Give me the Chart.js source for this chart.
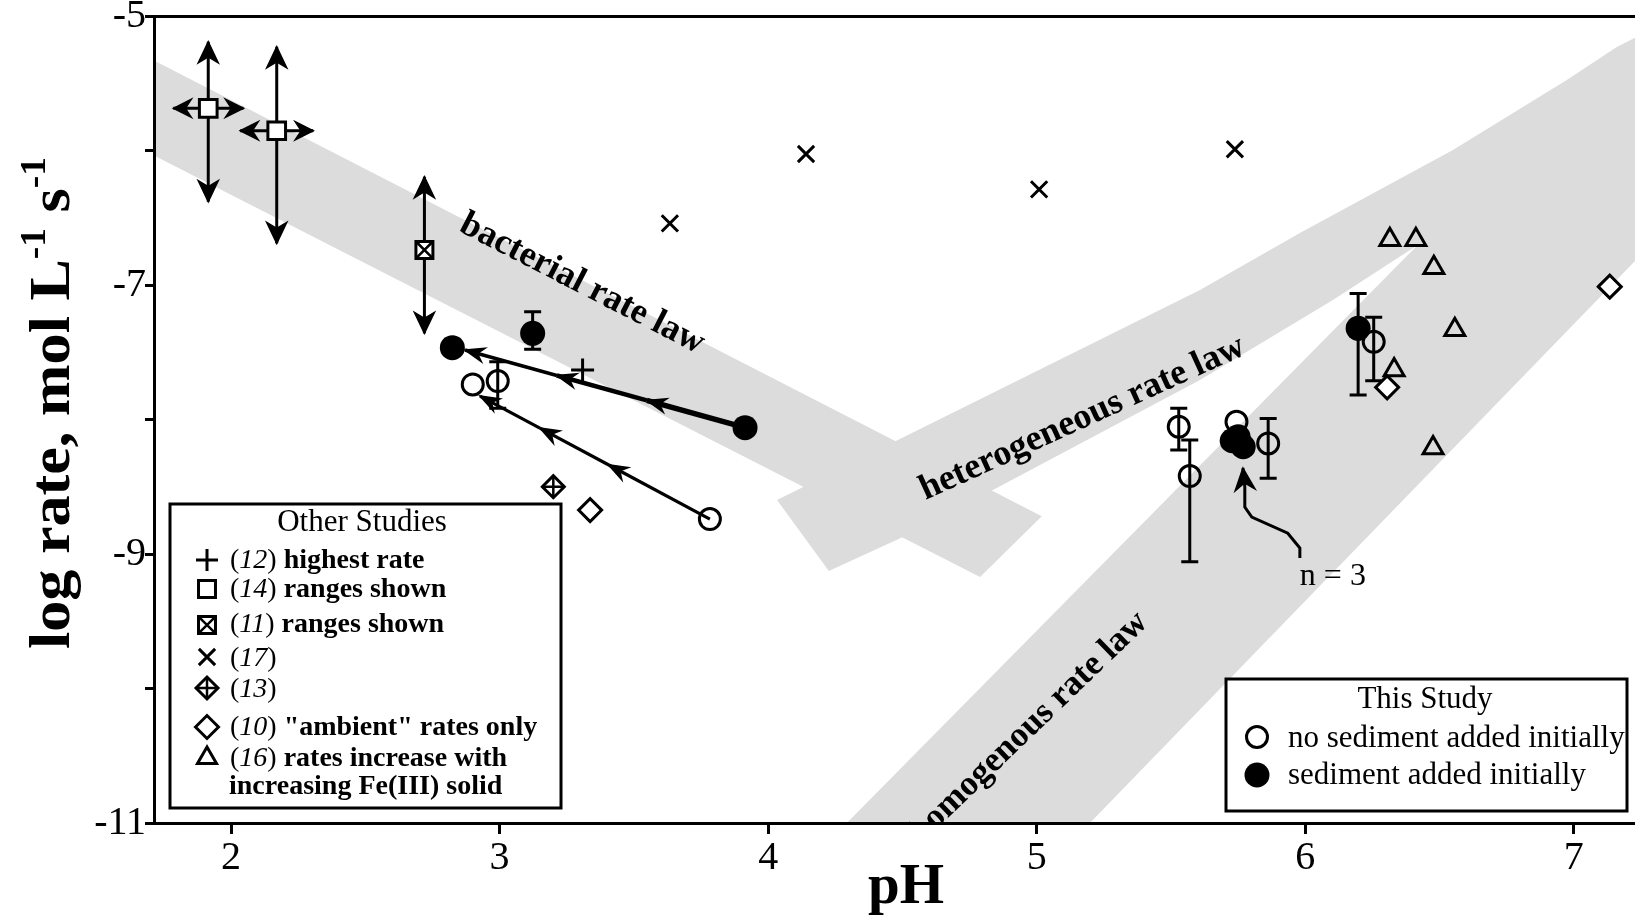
<!DOCTYPE html>
<html>
<head>
<meta charset="utf-8">
<script src="https://cdn.jsdelivr.net/npm/chart.js@4.4.1/dist/chart.umd.min.js"></script>
<style>
html,body{margin:0;padding:0;background:#fff;}
#wrap{width:1635px;height:915px;position:relative;overflow:hidden;}
canvas{display:block;}
</style>
</head>
<body>
<div id="wrap"><canvas id="c" width="1635" height="915"></canvas></div>
<script>
// ---------------- DATA ----------------
const xTicks = [2, 3, 4, 5, 6, 7];
const xTickLabels = ['2', '3', '4', '5', '6', '7'];
const yTicks = [-11, -10, -9, -8, -7, -6, -5];
const yTickLabels = ['-11', '', '-9', '', '-7', '', '-5'];

// Other studies
const ref12PH = [3.309];
const ref12Rate = [-7.630];
const ref14PH = [1.915, 2.170];
const ref14Rate = [-5.683, -5.850];
const ref14PHLow = [1.785, 2.034];
const ref14PHHigh = [2.046, 2.306];
const ref14RateLow = [-6.378, -6.688];
const ref14RateHigh = [-5.188, -5.225];
const ref11PH = [2.720];
const ref11Rate = [-6.737];
const ref11RateLow = [-7.357];
const ref11RateHigh = [-6.192];
const ref17PH = [3.634, 4.141, 5.009, 5.738];
const ref17Rate = [-6.539, -6.023, -6.286, -5.988];
const ref13PH = [3.200];
const ref13Rate = [-8.498];
const ref10PH = [3.337, 6.305, 7.134];
const ref10Rate = [-8.672, -7.759, -7.010];
const ref16PH = [6.315, 6.412, 6.479, 6.557, 6.331, 6.476];
const ref16Rate = [-6.66, -6.66, -6.87, -7.33, -7.63, -8.21];

// This study
const noSedPH = [3.783, 2.900, 2.993, 5.529, 5.570, 5.744, 5.862, 6.255];
const noSedRate = [-8.739, -7.737, -7.712, -8.052, -8.419, -8.015, -8.176, -7.420];
const noSedErrLow = [null, null, -7.915, -8.225, -9.057, null, -8.436, -7.710];
const noSedErrHigh = [null, null, -7.569, -7.915, -8.151, null, -7.990, -7.238];
const sedPH = [3.914, 2.824, 3.123, 6.197, 5.728, 5.769, 5.750];
const sedRate = [-8.059, -7.464, -7.357, -7.320, -8.156, -8.201, -8.127];
const sedErrLow = [null, null, -7.476, -7.816, null, null, null];
const sedErrHigh = [null, null, -7.196, -7.060, null, null, null];

// Trajectories (this study, arrows toward lower pH)
const trajAPH = [3.914, 3.548, 3.213, 2.871];
const trajARate = [-8.059, -7.856, -7.671, -7.481];
const trajBPH = [3.783, 3.405, 3.150, 2.927];
const trajBRate = [-8.739, -8.335, -8.062, -7.824];

// Rate-law bands (pH, log rate)
const bacterialBandPH = [1.5, 5.019, 4.789, 1.5];
const bacterialBandRate = [-5.109, -8.717, -9.170, -5.817];
const heteroBandPH = [4.033, 5.608, 5.980, 6.550, 6.974, 7.160, 7.320, 7.320, 6.724, 6.419, 6.103, 5.608, 4.837, 4.502, 4.226];
const heteroBandRate = [-8.597, -7.035, -6.611, -5.993, -5.472, -5.227, -5.063, -5.696, -6.365, -6.700, -7.109, -7.705, -8.523, -8.873, -9.126];
const homoBandPH = [4.194, 6.724, 7.320, 7.320, 5.101];
const homoBandRate = [-11.2, -6.083, -5.5, -6.63, -11.2];

const bandLabels = ['bacterial rate law', 'heterogeneous rate law', 'homogenous rate law'];
const bandLabelPH = [3.307, 5.17, 4.97];
const bandLabelRate = [-6.99, -7.99, -10.29];

// n = 3 annotation
const nLabel = 'n = 3';
const nLabelPH = [6.103];
const nLabelRate = [-9.170];
const nArrowPH = [5.980, 5.980, 5.935, 5.801, 5.775, 5.775, 5.768];
const nArrowRate = [-9.029, -8.955, -8.844, -8.724, -8.650, -8.501, -8.359];

// Legends
const otherRefs = ['12', '14', '11', '17', '13', '10', '16'];
const otherNotes = [') highest rate', ') ranges shown', ') ranges shown', ')', ')', ') "ambient" rates only', ') rates increase with'];
const otherNoteCont = 'increasing Fe(III) solid';
const thisStudyLabels = ['no sediment added initially', 'sediment added initially'];

// ---------------- STYLE ----------------
const SERIF = '"Liberation Serif", "Times New Roman", serif';
const BAND_COLOR = '#dcdcdc';
const bandLabelAngle = [27.2, -24.5, -44];
const bandLabelSize = [36, 36, 35];

const pts = (xs, ys) => xs.map((v, i) => ({x: v, y: ys[i]}));
const yLabelMap = {}; yTicks.forEach((v, i) => yLabelMap[v] = yTickLabels[i]);
const xLabelMap = {}; xTicks.forEach((v, i) => xLabelMap[v] = xTickLabels[i]);

function px(ch, v) { return ch.scales.x.getPixelForValue(v); }
function py(ch, v) { return ch.scales.y.getPixelForValue(v); }

function arrowHead(ctx, tx, ty, ang, len, half, notch) {
  const c = Math.cos(ang), s = Math.sin(ang);
  const bx = tx - c * len, by = ty - s * len;
  ctx.beginPath();
  ctx.moveTo(tx, ty);
  ctx.lineTo(bx - s * half, by + c * half);
  ctx.lineTo(tx - c * notch, ty - s * notch);
  ctx.lineTo(bx + s * half, by - c * half);
  ctx.closePath();
  ctx.fill();
  ctx.lineWidth = 1.5;
  ctx.stroke();
}

function marker(ctx, style, x, y, r, fill, lw) {
  ctx.save();
  ctx.lineWidth = lw; ctx.strokeStyle = '#000';
  ctx.beginPath();
  const h = r * Math.SQRT1_2;
  if (style === 'circle') { ctx.arc(x, y, r, 0, Math.PI * 2); }
  else if (style === 'rect') { ctx.rect(x - h, y - h, 2 * h, 2 * h); }
  else if (style === 'rectRot') { ctx.moveTo(x - r, y); ctx.lineTo(x, y - r); ctx.lineTo(x + r, y); ctx.lineTo(x, y + r); ctx.closePath(); }
  else if (style === 'triangle') { ctx.moveTo(x, y - r); ctx.lineTo(x + r * 0.866, y + r / 2); ctx.lineTo(x - r * 0.866, y + r / 2); ctx.closePath(); }
  else if (style === 'cross') { ctx.moveTo(x - r, y); ctx.lineTo(x + r, y); ctx.moveTo(x, y - r); ctx.lineTo(x, y + r); }
  else if (style === 'crossRot') { ctx.moveTo(x - h, y - h); ctx.lineTo(x + h, y + h); ctx.moveTo(x + h, y - h); ctx.lineTo(x - h, y + h); }
  if (fill) { ctx.fillStyle = fill; ctx.fill(); }
  if (lw > 0) ctx.stroke();
  ctx.restore();
}

function richText(ctx, x, y, parts) {
  parts.forEach(([t, f]) => { ctx.font = f; ctx.fillText(t, x, y); x += ctx.measureText(t).width; });
}

// ---------------- PLUGINS ----------------
const bandsPlugin = {
  id: 'bands',
  beforeDraw(ch) {
    const ctx = ch.ctx, a = ch.chartArea;
    ctx.save();
    ctx.beginPath(); ctx.rect(a.left, a.top, a.right - a.left, a.bottom - a.top); ctx.clip();
    ctx.fillStyle = BAND_COLOR;
    [[bacterialBandPH, bacterialBandRate], [heteroBandPH, heteroBandRate], [homoBandPH, homoBandRate]].forEach(([xs, ys]) => {
      ctx.beginPath();
      xs.forEach((v, i) => { const X = px(ch, v), Y = py(ch, ys[i]); if (i) ctx.lineTo(X, Y); else ctx.moveTo(X, Y); });
      ctx.closePath(); ctx.fill();
    });
    ctx.fillStyle = '#000';
    bandLabels.forEach((t, i) => {
      ctx.save();
      ctx.translate(px(ch, bandLabelPH[i]), py(ch, bandLabelRate[i]));
      ctx.rotate(bandLabelAngle[i] * Math.PI / 180);
      ctx.font = 'bold ' + bandLabelSize[i] + 'px ' + SERIF;
      ctx.textAlign = 'center'; ctx.textBaseline = 'middle';
      ctx.fillText(t, 0, 0);
      ctx.restore();
    });
    ctx.restore();
  }
};

const linesPlugin = {
  id: 'lines',
  beforeDatasetsDraw(ch) {
    const ctx = ch.ctx;
    ctx.save();
    ctx.strokeStyle = '#000'; ctx.fillStyle = '#000'; ctx.lineCap = 'butt';
    // range arrows (14)
    ref14PH.forEach((v, i) => {
      const X = px(ch, v), Y = py(ch, ref14Rate[i]);
      const yl = py(ch, ref14RateLow[i]), yh = py(ch, ref14RateHigh[i]);
      const xl = px(ch, ref14PHLow[i]), xh = px(ch, ref14PHHigh[i]);
      ctx.lineWidth = 3;
      ctx.beginPath(); ctx.moveTo(X, yl); ctx.lineTo(X, yh); ctx.stroke();
      ctx.beginPath(); ctx.moveTo(xl, Y); ctx.lineTo(xh, Y); ctx.stroke();
      arrowHead(ctx, X, yh, -Math.PI / 2, 21, 10, 15);
      arrowHead(ctx, X, yl, Math.PI / 2, 21, 10, 15);
      arrowHead(ctx, xl, Y, Math.PI, 18, 9, 12);
      arrowHead(ctx, xh, Y, 0, 18, 9, 12);
    });
    // range arrows (11)
    ref11PH.forEach((v, i) => {
      const X = px(ch, v);
      const yl = py(ch, ref11RateLow[i]), yh = py(ch, ref11RateHigh[i]);
      ctx.lineWidth = 3;
      ctx.beginPath(); ctx.moveTo(X, yl); ctx.lineTo(X, yh); ctx.stroke();
      arrowHead(ctx, X, yh, -Math.PI / 2, 21, 10, 15);
      arrowHead(ctx, X, yl, Math.PI / 2, 21, 10, 15);
    });
    // error bars
    const errBar = (xs, lo, hi) => xs.forEach((v, i) => {
      if (lo[i] === null) return;
      const X = px(ch, v), y1 = py(ch, lo[i]), y2 = py(ch, hi[i]);
      ctx.lineWidth = 3;
      ctx.beginPath();
      ctx.moveTo(X, y1); ctx.lineTo(X, y2);
      ctx.moveTo(X - 8.5, y1); ctx.lineTo(X + 8.5, y1);
      ctx.moveTo(X - 8.5, y2); ctx.lineTo(X + 8.5, y2);
      ctx.stroke();
    });
    errBar(noSedPH, noSedErrLow, noSedErrHigh);
    errBar(sedPH, sedErrLow, sedErrHigh);
    // trajectories
    const traj = (xs, ys, widths) => {
      for (let i = 0; i < xs.length - 1; i++) {
        const x1 = px(ch, xs[i]), y1 = py(ch, ys[i]), x2 = px(ch, xs[i + 1]), y2 = py(ch, ys[i + 1]);
        ctx.lineWidth = widths[i];
        ctx.beginPath(); ctx.moveTo(x1, y1); ctx.lineTo(x2, y2); ctx.stroke();
      }
      for (let i = 0; i < xs.length - 1; i++) {
        const x1 = px(ch, xs[i]), y1 = py(ch, ys[i]), x2 = px(ch, xs[i + 1]), y2 = py(ch, ys[i + 1]);
        arrowHead(ctx, x2, y2, Math.atan2(y2 - y1, x2 - x1), 19, 7, 13);
      }
    };
    traj(trajAPH, trajARate, [5.5, 4.5, 3.5]);
    traj(trajBPH, trajBRate, [3.2, 3.2, 3.2]);
    // n = 3 arrow
    ctx.lineWidth = 3; ctx.lineJoin = 'miter';
    ctx.beginPath();
    nArrowPH.forEach((v, i) => { const X = px(ch, v), Y = py(ch, nArrowRate[i]); if (i) ctx.lineTo(X, Y); else ctx.moveTo(X, Y); });
    ctx.stroke();
    const n = nArrowPH.length;
    const ax1 = px(ch, nArrowPH[n - 2]), ay1 = py(ch, nArrowRate[n - 2]), ax2 = px(ch, nArrowPH[n - 1]), ay2 = py(ch, nArrowRate[n - 1]);
    arrowHead(ctx, ax2, ay2, Math.atan2(ay2 - ay1, ax2 - ax1), 22, 10, 15);
    ctx.restore();
  }
};

const overlayPlugin = {
  id: 'overlay',
  afterDraw(ch) {
    const ctx = ch.ctx, a = ch.chartArea;
    ctx.save();
    // top frame line
    ctx.strokeStyle = '#000'; ctx.lineWidth = 3;
    ctx.beginPath(); ctx.moveTo(a.left - 1.5, a.top); ctx.lineTo(a.right + 2, a.top); ctx.stroke();
    ctx.fillStyle = '#000';
    // n = 3 label
    ctx.font = '32px ' + SERIF; ctx.textAlign = 'center'; ctx.textBaseline = 'middle';
    ctx.fillText(nLabel, px(ch, nLabelPH[0]), py(ch, nLabelRate[0]));
    // y title with superscripts, stretched along its length
    ctx.save();
    ctx.translate(69, 649);
    ctx.rotate(-Math.PI / 2);
    ctx.textAlign = 'left'; ctx.textBaseline = 'alphabetic';
    const big = 'bold 58px ' + SERIF, sup = 'bold 35px ' + SERIF;
    const segs = [['log rate, mol L', big, 0], ['-1', sup, -24], [' s', big, 0], ['-1', sup, -24]];
    let W = 0;
    segs.forEach(([t, f]) => { ctx.font = f; W += ctx.measureText(t).width; });
    ctx.scale(492 / W, 1);
    let u = 0;
    segs.forEach(([t, f, dv]) => { ctx.font = f; ctx.fillText(t, u, dv); u += ctx.measureText(t).width; });
    ctx.restore();
    // x title
    ctx.font = 'bold 57px ' + SERIF; ctx.textAlign = 'center'; ctx.textBaseline = 'alphabetic';
    ctx.fillText('pH', 906, 903);

    // Other Studies legend
    ctx.lineWidth = 3; ctx.strokeStyle = '#000'; ctx.fillStyle = '#fff';
    ctx.fillRect(170, 504, 391, 304); ctx.strokeRect(170, 504, 391, 304);
    ctx.fillStyle = '#000';
    ctx.font = '31px ' + SERIF; ctx.textAlign = 'center';
    ctx.fillText('Other Studies', 362, 531);
    ctx.textAlign = 'left';
    const baselines = [568, 597, 632, 666, 697, 735, 766];
    const symY = [560, 589, 625, 657, 688, 727, 756];
    const reg = '28px ' + SERIF, ita = 'italic 28px ' + SERIF, bld = 'bold 28px ' + SERIF;
    otherRefs.forEach((r, i) => {
      richText(ctx, 230, baselines[i], [['(', reg], [r, ita], [otherNotes[i].slice(0, 1), reg], [otherNotes[i].slice(1), bld]]);
    });
    ctx.font = bld; ctx.fillText(otherNoteCont, 229, 794);
    const sx = 207;
    marker(ctx, 'cross', sx, symY[0], 11, null, 3);
    marker(ctx, 'rect', sx, symY[1], 12, '#fff', 3);
    marker(ctx, 'rect', sx, symY[2], 12, '#fff', 3);
    marker(ctx, 'crossRot', sx, symY[2], 12, null, 2.5);
    marker(ctx, 'crossRot', sx, symY[3], 11.5, null, 3);
    marker(ctx, 'rectRot', sx, symY[4], 11, '#fff', 3);
    marker(ctx, 'cross', sx, symY[4], 11, null, 2.5);
    marker(ctx, 'rectRot', sx, symY[5], 11.5, '#fff', 3);
    marker(ctx, 'triangle', sx, symY[6] + 2, 11, null, 3);

    // This Study legend
    ctx.fillStyle = '#fff';
    ctx.fillRect(1226, 679, 401, 132); ctx.strokeRect(1226, 679, 401, 132);
    ctx.fillStyle = '#000';
    ctx.font = '31px ' + SERIF; ctx.textAlign = 'center';
    ctx.fillText('This Study', 1425, 708);
    ctx.textAlign = 'left';
    ctx.fillText(thisStudyLabels[0], 1288, 747);
    ctx.fillText(thisStudyLabels[1], 1288, 784);
    marker(ctx, 'circle', 1257, 737, 10.5, null, 3);
    marker(ctx, 'circle', 1257, 775, 12.5, '#000', 0);
    ctx.restore();
  }
};

// ---------------- CHART ----------------
const mk = (label, xs, ys, o) => Object.assign({
  label, data: pts(xs, ys), showLine: false,
  pointBorderColor: '#000', pointBorderWidth: 3, pointBackgroundColor: 'rgba(0,0,0,0)',
  pointHoverRadius: o.pointRadius, pointHoverBorderWidth: 3
}, o);

const chart = new Chart(document.getElementById('c'), {
  type: 'scatter',
  data: {
    datasets: [
      mk('sediment added initially', sedPH, sedRate, {pointStyle: 'circle', pointRadius: 12.5, pointBackgroundColor: '#000', pointBorderWidth: 0, pointHoverBorderWidth: 0}),
      mk('no sediment added initially', noSedPH, noSedRate, {pointStyle: 'circle', pointRadius: 10.5}),
      mk('(11) ranges shown X', ref11PH, ref11Rate, {pointStyle: 'crossRot', pointRadius: 12, pointBorderWidth: 2.5}),
      mk('(11) ranges shown', ref11PH, ref11Rate, {pointStyle: 'rect', pointRadius: 12, pointBackgroundColor: '#fff'}),
      mk('(14) ranges shown', ref14PH, ref14Rate, {pointStyle: 'rect', pointRadius: 12.5, pointBackgroundColor: '#fff'}),
      mk('(12) highest rate', ref12PH, ref12Rate, {pointStyle: 'cross', pointRadius: 11.5}),
      mk('(13) cross', ref13PH, ref13Rate, {pointStyle: 'cross', pointRadius: 11, pointBorderWidth: 2.5}),
      mk('(13)', ref13PH, ref13Rate, {pointStyle: 'rectRot', pointRadius: 11, pointBackgroundColor: '#fff'}),
      mk('(10) ambient rates only', ref10PH, ref10Rate, {pointStyle: 'rectRot', pointRadius: 11.5, pointBackgroundColor: '#fff'}),
      mk('(16) rates increase', ref16PH, ref16Rate, {pointStyle: 'triangle', pointRadius: 11.5}),
      mk('(17)', ref17PH, ref17Rate, {pointStyle: 'crossRot', pointRadius: 11.5})
    ]
  },
  options: {
    responsive: false, animation: false, devicePixelRatio: 1,
    layout: {autoPadding: false, padding: {top: 16.5, right: 0, bottom: 0, left: 0}},
    plugins: {legend: {display: false}, tooltip: {enabled: false}},
    events: [],
    scales: {
      x: {
        type: 'linear', min: 1.713, max: 7.228,
        afterBuildTicks: s => { s.ticks = xTicks.map(v => ({value: v})); },
        afterFit: s => { s.height = 92; s.paddingLeft = 0; s.paddingRight = 0; },
        grid: {display: true, drawOnChartArea: false, drawTicks: true, tickLength: 11, tickWidth: 3, tickColor: '#000'},
        border: {display: true, color: '#000', width: 3},
        ticks: {autoSkip: false, maxRotation: 0, padding: 0, color: '#000', font: {family: SERIF, size: 40}, callback: v => xLabelMap[v]},
        title: {display: false}
      },
      y: {
        type: 'linear', min: -11, max: -5,
        afterBuildTicks: s => { s.ticks = yTicks.map(v => ({value: v})); },
        afterFit: s => { s.width = 154; s.paddingTop = 0; s.paddingBottom = 0; },
        grid: {display: true, drawOnChartArea: false, drawTicks: true, tickLength: 9, tickWidth: 3, tickColor: '#000'},
        border: {display: true, color: '#000', width: 3},
        ticks: {autoSkip: false, padding: -1, color: '#000', font: {family: SERIF, size: 40}, callback: v => yLabelMap[v]},
        title: {display: false}
      }
    }
  },
  plugins: [bandsPlugin, linesPlugin, overlayPlugin]
});
</script>
</body>
</html>
